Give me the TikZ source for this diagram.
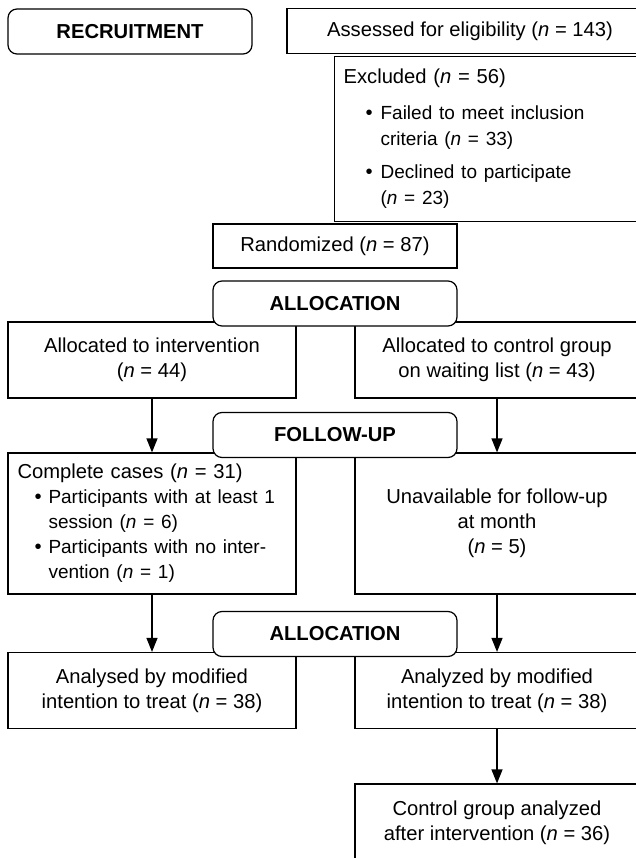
\documentclass[tikz,border=0pt]{standalone}
\usepackage{fontspec}
\setmainfont{Liberation Sans}
\usetikzlibrary{arrows.meta}
\newcommand{\myn}{\textit{n}}
\newcommand{\smalltxt}{\fontsize{19}{26.5}\selectfont}
\newcommand{\exbullet}[1]{\hspace*{22pt}\makebox[15pt][l]{\textbullet}{\smalltxt #1}}
\newcommand{\excont}[1]{\hspace*{37pt}{\smalltxt #1}}
\newcommand{\ccbullet}[1]{\hspace*{17pt}\makebox[14pt][l]{\textbullet}\mbox{\smalltxt #1}}
\newcommand{\cccont}[1]{\hspace*{31pt}\mbox{\smalltxt #1}}
\begin{document}
\begin{tikzpicture}[x=1pt,y=-1pt,
  font=\fontsize{20.2}{25}\selectfont,
  box/.style={draw, line width=1.2pt, fill=white, inner sep=0pt, align=center},
  hdr/.style={draw, line width=1.2pt, fill=white, rounded corners=9pt, inner sep=0pt,
    minimum width=244, minimum height=45, font=\fontsize{20.2}{25}\selectfont\bfseries},
  arr/.style={line width=1.2pt, -{Triangle[length=14pt,width=11pt]}}]
\useasboundingbox (0,0) rectangle (636,858);
\clip (0,0) rectangle (636,858);

% recruitment row
\node[hdr] (rec) at (130,31.5) {RECRUITMENT};
\node[box, minimum width=366, minimum height=45] (ass) at (470,31) {Assessed for eligibility (\myn{} = 143)};
\node[box, anchor=north west, minimum width=330, minimum height=165,
  text width=312, align=left, inner xsep=9pt,
  font=\fontsize{20.2}{26.5}\selectfont] (exc) at (334,56)
  {Excluded (\myn{} = 56)\\[9pt]
   \exbullet{Failed to meet inclusion}\\
   \excont{criteria (\myn{} = 33)}\\[6pt]
   \exbullet{Declined to participate}\\
   \excont{(\myn{} = 23)}};

\node[box, minimum width=244, minimum height=44] (rand) at (335,246) {Randomized (\myn{} = 87)};

% allocation
\node[box, minimum width=288, minimum height=76] (aL) at (152,360)
  {Allocated to intervention\\(\myn{} = 44)};
\node[box, minimum width=284, minimum height=76] (aR) at (497,360)
  {Allocated to control group\\on waiting list (\myn{} = 43)};
\node[hdr] (al1) at (335,303.5) {ALLOCATION};

% follow-up
\node[box, minimum width=288, minimum height=141, text width=269, align=left,
  inner xsep=9.5pt] (cL) at (152,523.5)
  {Complete cases (\myn{} = 31)\\
   \ccbullet{Participants with at least 1}\\
   \cccont{session (\myn{} = 6)}\\
   \ccbullet{Participants with no inter-}\\
   \cccont{vention (\myn{} = 1)}};
\node[box, minimum width=284, minimum height=141] (cR) at (497,523.5)
  {Unavailable for follow-up\\at month\\(\myn{} = 5)};
\node[hdr] (fu) at (335,435) {FOLLOW-UP};

% analysis
\node[box, minimum width=288, minimum height=76] (nL) at (152,690.5)
  {Analysed by modified\\intention to treat (\myn{} = 38)};
\node[box, minimum width=284, minimum height=76] (nR) at (497,690.5)
  {Analyzed by modified\\intention to treat (\myn{} = 38)};
\node[hdr] (al2) at (335,634) {ALLOCATION};

\node[box, minimum width=284, minimum height=78] (ctrl) at (497,823)
  {Control group analyzed\\after intervention (\myn{} = 36)};

% connectors
\draw[arr] (aL) -- (cL);
\draw[arr] (aR) -- (cR);
\draw[arr] (cL) -- (nL);
\draw[arr] (cR) -- (nR);
\draw[arr] (nR) -- (ctrl);
\end{tikzpicture}
\end{document}
